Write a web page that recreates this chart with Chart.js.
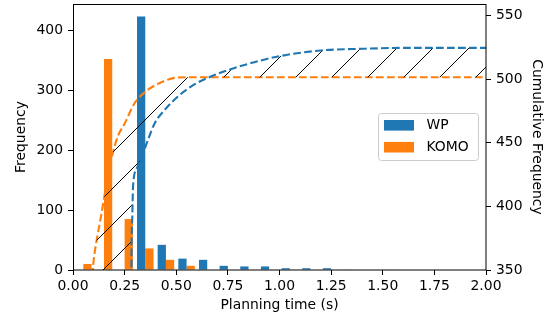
<!DOCTYPE html>
<html><head><meta charset="utf-8">
<script src="https://cdn.jsdelivr.net/npm/chart.js@4/dist/chart.umd.min.js"></script>
<style>html,body{margin:0;padding:0;background:#fff}#wrap{width:556px;height:320px;position:relative}</style>
</head><body><div id="wrap"><canvas id="c"></canvas></div>
<script>
// ---- data ----
const binCenters = [0.05,0.15,0.25,0.35,0.45,0.55,0.65,0.75,0.85,0.95,1.05,1.15,1.25,1.35,1.45,1.55,1.65,1.75,1.85,1.95];
const wpFreq   = [0,0,0,423,42,19,17,7,6,6,3,3,3,1,0,1,0,0,0,0];
const komoFreq = [10,352,85,36,17,7,0,0,0,0,0,0,0,0,0,0,0,0,0,0];
const wpCumX   = [0.0,0.28,0.283,0.286,0.291,0.307,0.34,0.364,0.397,0.445,0.51,0.59,0.66,0.75,0.85,1.0,1.2,1.4,1.6,2.0];
const wpCumY   = [0,0,350,385,416,429,442,452.7,465.7,476,486.6,496,501.5,507,512,518,522.5,523.8,524.5,524.5];
const komoCumX = [0.0,0.096,0.104,0.117,0.136,0.152,0.172,0.193,0.217,0.25,0.298,0.354,0.408,0.494,0.55,2.0];
const komoCumY = [0,350,362.5,375.5,392.5,408,426.6,442,455,465,481,490.5,496,501,501.5,501.5];
const xTickValues  = [0,0.25,0.5,0.75,1.0,1.25,1.5,1.75,2.0];
const yTickValues  = [0,100,200,300,400];
const y2TickValues = [350,400,450,500,550];
const seriesNames = ['WP','KOMO'];

// ---- styles ----
const BLUE = '#1f77b4', ORANGE = '#ff7f0e';
const FONT = {family: 'DejaVu Sans', size: 13.9};
Chart.defaults.font.family = 'DejaVu Sans';
Chart.defaults.color = '#000';

const canvas = document.getElementById('c');
function makeHatch() {
  const s = 36;
  const t = document.createElement('canvas'); t.width = s; t.height = s;
  const g = t.getContext('2d');
  g.strokeStyle = '#000'; g.lineWidth = 1;
  g.beginPath();
  g.moveTo(-3, s + 3); g.lineTo(s + 3, -3);
  g.moveTo(-3, 3); g.lineTo(3, -3);
  g.moveTo(s - 3, s + 3); g.lineTo(s + 3, s - 3);
  g.stroke();
  const p = canvas.getContext('2d').createPattern(t, 'repeat');
  p.setTransform(new DOMMatrix([1, 0, 0, 1, 13, 0]));
  return p;
}
const hatch = makeHatch();

const pts = (xs, ys) => xs.map((x, i) => ({x, y: ys[i]}));
const noPadV = s => { s.paddingTop = 0; s.paddingBottom = 0; };

const framePlugin = {
  id: 'frame',
  afterDatasetsDraw(chart) {
    const {ctx, chartArea: a} = chart;
    ctx.save();
    ctx.strokeStyle = '#000'; ctx.lineWidth = 1;
    ctx.strokeRect(Math.round(a.left) + 0.5, Math.round(a.top) + 0.5,
                   Math.round(a.right - a.left) - 1 + 0.5, Math.round(a.bottom - a.top) - 0.5);
    ctx.restore();
  }
};
const legendPlugin = {
  id: 'boxLegend',
  afterDraw(chart, args, o) {
    const {ctx} = chart;
    ctx.save();
    ctx.fillStyle = 'rgba(255,255,255,0.8)';
    ctx.strokeStyle = '#cccccc'; ctx.lineWidth = 1;
    ctx.beginPath();
    ctx.roundRect(o.x + 0.5, o.y + 0.5, o.w, o.h, 3);
    ctx.fill(); ctx.stroke();
    ctx.font = `${FONT.size}px ${FONT.family}`;
    ctx.textBaseline = 'middle';
    o.items.forEach((idx, i) => {
      const ds = chart.data.datasets[idx];
      const yy = o.y + o.firstY + i * o.rowH;
      ctx.fillStyle = ds.backgroundColor;
      ctx.fillRect(o.x + 6, yy - 5.3, 30, 10.6);
      ctx.fillStyle = '#000';
      ctx.fillText(ds.label, o.x + 48.5, yy + 0.5);
    });
    ctx.restore();
  }
};

new Chart(canvas, {
  type: 'bar',
  data: {
    datasets: [
      {label: seriesNames[0], data: pts(binCenters, wpFreq), backgroundColor: BLUE, yAxisID: 'y', order: 3,
       categoryPercentage: 0.8, barPercentage: 1.0},
      {label: seriesNames[1], data: pts(binCenters, komoFreq), backgroundColor: ORANGE, yAxisID: 'y', order: 3,
       categoryPercentage: 0.8, barPercentage: 1.0},
      {type: 'line', label: seriesNames[0] + ' cumulative', data: pts(wpCumX, wpCumY), yAxisID: 'y2', order: 1,
       borderColor: BLUE, borderWidth: 2.1, borderDash: [7.7, 3.3], pointRadius: 0,
       cubicInterpolationMode: 'monotone', fill: 3, backgroundColor: hatch},
      {type: 'line', label: seriesNames[1] + ' cumulative', data: pts(komoCumX, komoCumY), yAxisID: 'y2', order: 2,
       borderColor: ORANGE, borderWidth: 2.1, borderDash: [7.7, 3.3], pointRadius: 0,
       cubicInterpolationMode: 'monotone', fill: false}
    ]
  },
  options: {
    responsive: true, maintainAspectRatio: false, animation: false,
    layout: {padding: {top: 4, left: 0, right: 0, bottom: 0}},
    plugins: {
      legend: {display: false}, tooltip: {enabled: false},
      boxLegend: {x: 378, y: 113, w: 100, h: 47, firstY: 12.3, rowH: 21.9, items: [0, 1]}
    },
    scales: {
      x: {
        type: 'linear', min: 0, max: 2, offset: false,
        grid: {display: true, drawOnChartArea: false, offset: false, tickLength: 5, tickColor: '#000', tickWidth: 1},
        border: {display: false},
        afterBuildTicks: s => { s.ticks = xTickValues.map(v => ({value: v})); },
        afterFit: s => { s.height = 50; s.paddingLeft = 0; s.paddingRight = 0; },
        ticks: {font: FONT, color: '#000', padding: 3, maxRotation: 0, callback: v => Number(v).toFixed(2)},
        title: {display: true, text: 'Planning time (s)', font: FONT, color: '#000', padding: {top: 0, bottom: 6.2}}
      },
      y: {
        position: 'left', min: 0, max: 444,
        grid: {display: true, drawOnChartArea: false, tickLength: 5, tickColor: '#000', tickWidth: 1},
        border: {display: false},
        afterBuildTicks: s => { s.ticks = yTickValues.map(v => ({value: v})); },
        afterFit: s => { s.width = 73; noPadV(s); },
        ticks: {font: FONT, color: '#000', padding: 5},
        title: {display: true, text: 'Frequency', font: FONT, color: '#000', padding: {top: 12.7, bottom: 0}}
      },
      y2: {
        position: 'right', min: 350, max: 559,
        grid: {display: true, drawOnChartArea: false, tickLength: 5, tickColor: '#000', tickWidth: 1},
        border: {display: false},
        afterBuildTicks: s => { s.ticks = y2TickValues.map(v => ({value: v})); },
        afterFit: s => { s.width = 70; noPadV(s); },
        ticks: {font: FONT, color: '#000', padding: 5},
        title: {display: true, text: 'Cumulative Frequency', font: FONT, color: '#000', padding: {top: 10.7, bottom: 0}}
      }
    }
  },
  plugins: [framePlugin, legendPlugin]
});
</script>
</body></html>
